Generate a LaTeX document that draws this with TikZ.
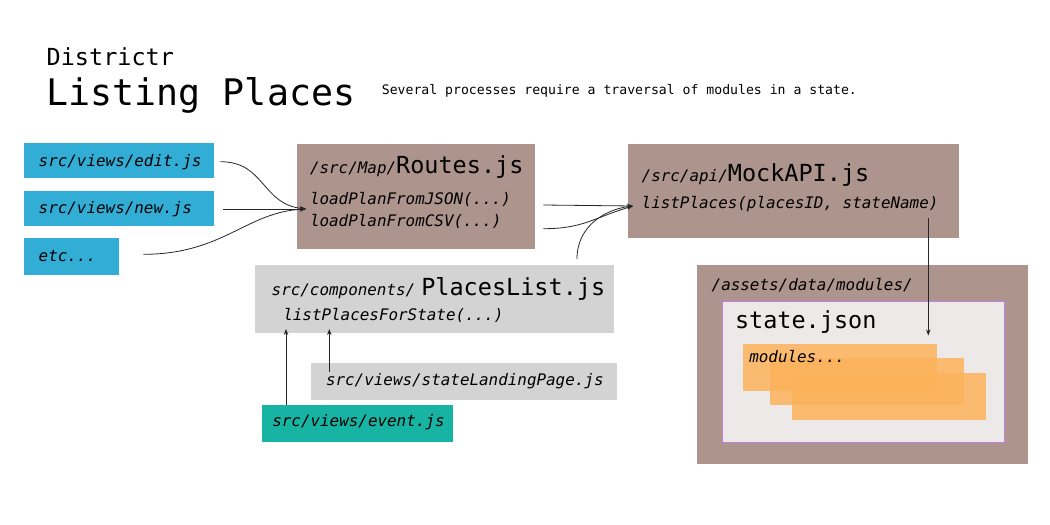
\documentclass[tikz,border=0pt]{standalone}
\usepackage{fontspec}
\setmainfont{DejaVu Sans Mono}
\usetikzlibrary{arrows.meta}
\definecolor{cblue}{HTML}{31ADD6}
\definecolor{cbrown}{HTML}{AD948C}
\definecolor{cgray}{HTML}{D3D3D3}
\definecolor{cteal}{HTML}{17B3A3}
\definecolor{cinner}{HTML}{EDE9E8}
\definecolor{cpurple}{HTML}{C07FE0}
\definecolor{corange}{HTML}{FDB25A}
\begin{document}
\begin{tikzpicture}[x=1pt,y=-1pt,
  box/.style={draw=none, inner sep=0pt, outer sep=0pt, anchor=north west},
  lbl/.style={inner sep=0pt, outer sep=0pt, anchor=base west, text=black,
    font=\fontsize{15.9}{18}\selectfont\itshape},
  big/.style={inner sep=0pt, outer sep=0pt, anchor=base west, text=black,
    font=\fontsize{23.5}{28}\selectfont},
  conn/.style={line width=0.8pt, draw=black!85, -{Stealth[length=6pt,width=4.5pt]}},
  modbox/.style={box, fill=corange, fill opacity=0.85, minimum width=194, minimum height=47}]
\useasboundingbox (0,0) rectangle (1050,525);

% title
\node[inner sep=0pt, anchor=base west, font=\fontsize{23.5}{28}\selectfont] (t1) at (46.5,65) {Districtr};
\node[inner sep=0pt, anchor=base west, font=\fontsize{36.6}{40}\selectfont] (t2) at (46.5,105) {Listing Places};
\node[inner sep=0pt, anchor=base west, font=\fontsize{13.15}{15}\selectfont] (t3) at (381.7,94) {Several processes require a traversal of modules in a state.};

% left blue boxes
\node[box, fill=cblue, minimum width=190, minimum height=35] (edit) at (24,143.3) {};
\node[lbl] (editt) at (38.7,166) {src/views/edit.js};
\node[box, fill=cblue, minimum width=190, minimum height=35] (new) at (24,191) {};
\node[lbl] (newt) at (38.7,213.3) {src/views/new.js};
\node[box, fill=cblue, minimum width=95, minimum height=37] (etc) at (24,238.3) {};
\node[lbl] (etct) at (38.7,261.7) {etc...};

% Routes
\node[box, fill=cbrown, minimum width=238, minimum height=105] (routes) at (297,144.3) {};
\node[lbl] (routesp) at (310,173.3) {/src/Map/};
\node[big] (routesn) at (routesp.base east) {Routes.js};
\node[lbl] (routes1) at (310,204) {loadPlanFromJSON(...)};
\node[lbl] (routes2) at (310,226.7) {loadPlanFromCSV(...)};

% MockAPI
\node[box, fill=cbrown, minimum width=331, minimum height=93.5] (mock) at (628.3,144) {};
\node[lbl] (mockp) at (641.7,181.7) {/src/api/};
\node[big] (mockn) at (mockp.base east) {MockAPI.js};
\node[lbl] (mock1) at (641.7,208.3) {listPlaces(placesID, stateName)};

% PlacesList
\node[box, fill=cgray, minimum width=359, minimum height=68.3] (places) at (255,265) {};
\node[lbl] (placesp) at (271.7,295) {src/components/};
\node[big] (placesn) at ([xshift=6pt]placesp.base east) {PlacesList.js};
\node[lbl] (places1) at (283.3,320) {listPlacesForState(...)};

% stateLandingPage
\node[box, fill=cgray, minimum width=305.7, minimum height=37.3] (landing) at (311,362.7) {};
\node[lbl] (landingt) at (326,385.7) {src/views/stateLandingPage.js};

% event
\node[box, fill=cteal, minimum width=191.3, minimum height=36.7] (event) at (262,405) {};
\node[lbl] (eventt) at (272.3,426.7) {src/views/event.js};

% modules
\node[box, fill=cbrown, minimum width=331, minimum height=199.3] (assets) at (697.3,265) {};
\node[lbl] (assetst) at (711.7,290.7) {/assets/data/modules/};
\node[box, fill=cinner, minimum width=283.3, minimum height=141.7] (state) at (721.7,301) {};
\draw[cpurple, line width=1pt] ([shift={(0.5,0.5)}]state.north west) rectangle ([shift={(-0.5,-0.5)}]state.south east);
\node[big] (statet) at (735,328.3) {state.json};
\node[modbox] (m1) at (742.7,343.7) {};
\node[modbox] (m2) at (770,357.7) {};
\node[modbox] (m3) at (791.7,373) {};
\node[lbl] (modt) at (749.3,362.3) {modules...};

% connector endpoints
\coordinate (editout) at (220.3,161.7);
\coordinate (newout) at (222.7,209);
\coordinate (etcout) at (143.3,254.3);
\coordinate (routesin) at (306,209);
\coordinate (routesout1) at (543.3,205);
\coordinate (routesout2) at (543.3,228.7);
\coordinate (placesout) at (577,259);
\coordinate (mockin) at (633,206);
\coordinate (mockout) at (928.3,218);
\coordinate (statein) at (928.3,335.5);
\coordinate (eventout) at (286,405);
\coordinate (placesin1) at (286,329);
\coordinate (landingout) at (329.3,371.7);
\coordinate (placesin2) at (329.3,329);

% connectors
\draw[conn] (editout) .. controls +(45,0) and +(-45,-5) .. (routesin);
\draw[conn] (newout) -- (routesin);
\draw[conn] (etcout) .. controls +(80,0) and +(-60,3) .. (routesin);
\draw[conn] (routesout1) -- (mockin);
\draw[conn] (routesout2) .. controls +(40,0) and +(-40,12) .. (mockin);
\draw[conn] (placesout) .. controls +(0,-35) and +(-25,3) .. (mockin);
\draw[conn] (mockout) -- (statein);
\draw[conn] (eventout) -- (placesin1);
\draw[conn] (landingout) -- (placesin2);
\end{tikzpicture}
\end{document}
